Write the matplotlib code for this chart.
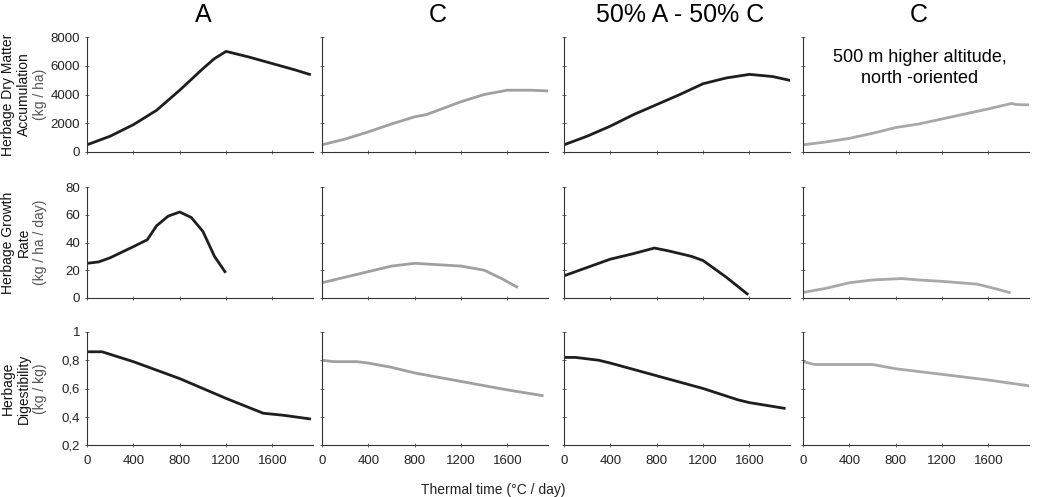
import matplotlib.pyplot as plt

plt.rcParams['font.family'] = ['Liberation Sans', 'DejaVu Sans']

# column titles
col_titles = ['A', 'C', '50% A - 50% C', 'C']
col_colors = ['#1e1e1e', '#a0a0a0', '#1e1e1e', '#a8a8a8']

# row 1: herbage dry matter accumulation (kg/ha)
dm_x = [
    [0, 200, 400, 600, 800, 1000, 1100, 1200, 1400, 1600, 1800, 1920],
    [0, 200, 400, 600, 800, 900, 1000, 1200, 1400, 1600, 1800, 1940],
    [0, 200, 400, 600, 800, 1000, 1200, 1400, 1600, 1800, 1940],
    [0, 200, 400, 600, 800, 1000, 1200, 1400, 1600, 1800, 1840, 1950],
]
dm_y = [
    [500, 1100, 1900, 2900, 4300, 5800, 6500, 7000, 6600, 6150, 5700, 5400],
    [500, 900, 1400, 1950, 2450, 2600, 2900, 3500, 4000, 4300, 4300, 4250],
    [500, 1100, 1800, 2600, 3300, 4000, 4750, 5150, 5400, 5250, 5000],
    [500, 700, 950, 1300, 1700, 1950, 2300, 2650, 3000, 3380, 3300, 3280],
]

# row 2: herbage growth rate (kg/ha/day)
gr_x = [
    [0, 100, 200, 300, 400, 520, 600, 700, 800, 900, 1000, 1100, 1190],
    [0, 200, 400, 600, 800, 1000, 1200, 1400, 1550, 1680],
    [0, 200, 400, 600, 780, 900, 1100, 1200, 1400, 1580],
    [0, 200, 400, 600, 850, 1000, 1200, 1500, 1600, 1780],
]
gr_y = [
    [25, 26, 29, 33, 37, 42, 52, 59, 62, 58, 48, 30, 19],
    [11, 15, 19, 23, 25, 24, 23, 20, 14, 8],
    [16, 22, 28, 32, 36, 34, 30, 27, 15, 3],
    [4, 7, 11, 13, 14, 13, 12, 10, 8, 4],
]

# row 3: herbage digestibility (kg/kg)
dg_x = [
    [0, 130, 400, 800, 1200, 1520, 1700, 1920],
    [0, 100, 300, 400, 600, 800, 1200, 1600, 1900],
    [0, 100, 300, 400, 800, 1200, 1500, 1600, 1900],
    [0, 100, 600, 800, 1200, 1600, 1940],
]
dg_y = [
    [0.86, 0.86, 0.79, 0.67, 0.53, 0.425, 0.41, 0.385],
    [0.80, 0.79, 0.79, 0.78, 0.75, 0.71, 0.65, 0.59, 0.55],
    [0.82, 0.82, 0.80, 0.78, 0.69, 0.60, 0.52, 0.50, 0.46],
    [0.79, 0.77, 0.77, 0.74, 0.70, 0.66, 0.62],
]

rows = [(dm_x, dm_y), (gr_x, gr_y), (dg_x, dg_y)]
ylims = [(0, 8000), (0, 80), (0.2, 1)]
yticks = [[0, 2000, 4000, 6000, 8000], [0, 20, 40, 60, 80],
          [0.2, 0.4, 0.6, 0.8, 1.0]]
ytick_labels = [['0', '2000', '4000', '6000', '8000'],
                ['0', '20', '40', '60', '80'],
                ['0,2', '0,4', '0,6', '0,8', '1']]
xticks = [0, 400, 800, 1200, 1600]

W, H = 1038, 497
fig = plt.figure(figsize=(W / 100, H / 100), dpi=100)

col_left = [87, 322, 564, 803]
ax_w = 226
row_px = [(37, 152), (187, 298), (332, 445)]

for r, (xs, ys) in enumerate(rows):
    top, bot = row_px[r]
    for c in range(4):
        ax = fig.add_axes([col_left[c] / W, 1 - bot / H, ax_w / W, (bot - top) / H])
        ax.plot(xs[c], ys[c], color=col_colors[c], lw=2)
        ax.set_xlim(0, 1950)
        ax.set_ylim(*ylims[r])
        for s in ['top', 'right']:
            ax.spines[s].set_visible(False)
        for s in ['left', 'bottom']:
            ax.spines[s].set_color('#333333')
            ax.spines[s].set_linewidth(0.8)
        ax.set_xticks(xticks)
        ax.set_yticks(yticks[r])
        ax.tick_params(length=3, width=0.6, color='#555555', labelsize=9.5,
                       labelcolor='#222222', direction='inout')
        if c == 0:
            ax.set_yticklabels(ytick_labels[r])
        else:
            ax.set_yticklabels([])
        if r == 2:
            ax.set_xticklabels([str(v) for v in xticks])
            ax.tick_params(axis='x', pad=6)
        else:
            ax.set_xticklabels([])
        if r == 0:
            fig.text((col_left[c] + ax_w / 2 + 3) / W, 1 - 15 / H, col_titles[c],
                     ha='center', va='center', fontsize=18)

fig.text((803 + ax_w / 2 + 4) / W, 1 - 68 / H,
         '500 m higher altitude,\nnorth -oriented',
         ha='center', va='center', fontsize=13, linespacing=1.25)

# row labels
ylabels = [('Herbage Dry Matter', 'Accumulation', '(kg / ha)'),
           ('Herbage Growth', 'Rate', '(kg / ha / day)'),
           ('Herbage', 'Digestibility', '(kg / kg)')]
label_x = [8, 24, 40]
for r, lines in enumerate(ylabels):
    top, bot = row_px[r]
    yc = 1 - (top + bot) / 2 / H
    for i, txt in enumerate(lines):
        fig.text(label_x[i] / W, yc, txt, rotation=90, ha='center', va='center',
                 fontsize=10, color='#555555' if i == 2 else '#111111')

fig.text(493 / W, 1 - 490 / H, 'Thermal time (°C / day)', ha='center',
         va='center', fontsize=10, color='#222222')

fig.savefig('out.png', dpi=100)
